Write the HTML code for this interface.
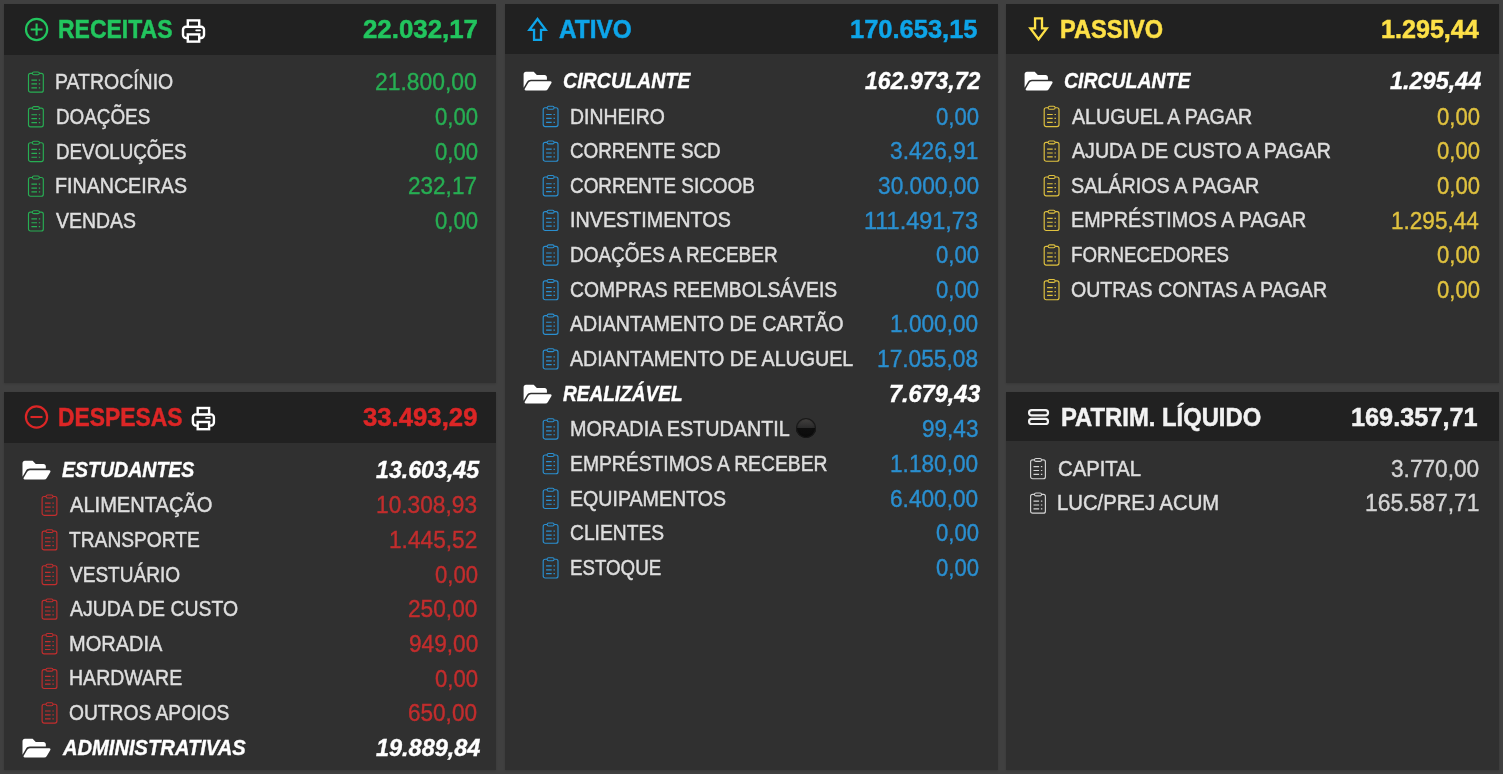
<!DOCTYPE html>
<html lang="pt-BR"><head><meta charset="utf-8"><title>Balanço</title>
<style>
html,body{margin:0;padding:0}
body{width:1503px;height:774px;overflow:hidden;background:#404040;position:relative;font-family:"Liberation Sans",sans-serif;color:#dedede}
.panel{position:absolute;background:#303030;overflow:hidden;box-shadow:0 1px 2px rgba(0,0,0,.14)}
header{position:absolute;left:0;top:0;right:0;background:#212121}
.row{position:absolute;left:0;right:0;height:34.7px}
span{position:absolute;white-space:nowrap;transform-origin:0 0;line-height:normal}
.lab{font-size:22.1px;-webkit-text-stroke:0.5px;}
.val{font-size:24.4px;-webkit-text-stroke:0.4px;}
.glab{font-size:22.1px;-webkit-text-stroke:0.4px;font-weight:bold;font-style:italic;color:#fff}
.gval{font-size:24.4px;-webkit-text-stroke:0.4px;font-weight:bold;font-style:italic;color:#fff}
.hlab{font-size:25.9px;-webkit-text-stroke:0.5px;font-weight:bold}
.hval{font-size:25.9px;-webkit-text-stroke:0.5px;font-weight:bold}
svg{position:absolute;overflow:visible}
.dot{position:absolute;width:20.3px;height:20.3px;border-radius:50%;background:linear-gradient(#484644 0,#3a3938 20%,#2b2b2b 48%,#0e0e0e 52%,#0c0c0c 100%);box-shadow:inset 0 0 0 1px #191919,inset 0 0 1.5px 1px rgba(10,10,10,.55)}
.green header{color:#22c55e}.green .val,.green .ci{color:#27ae53}
.red header{color:#dc2626}.red .val,.red .ci{color:#c22d2d}
.blue header{color:#0ea5e9}.blue .val,.blue .ci{color:#2a8fd0}
.yellow header{color:#fde047}.yellow .val,.yellow .ci{color:#e0c23f}
.white header{color:#f2f2f2}.white .val,.white .ci{color:#d4d4d4}
</style></head>
<body>
<section class="panel green" style="left:4.1px;top:4.1px;width:492px;height:378.8px">
<header style="height:51px"><svg style="left:19.9px;top:12.9px" width="26" height="26" viewBox="0 0 26 26" fill="none" stroke="currentColor" stroke-width="2.2"><g transform="translate(0.9 0.8)"><circle cx="11.7" cy="11.7" r="10.6"/><path d="M5.8 11.7h11.8M11.7 5.8v11.8" stroke-width="2.1"/></g></svg><span class="hlab" style="left:54.24px;top:10.92px;transform:scaleX(0.8877)">RECEITAS</span><svg style="left:176.9px;top:14.9px" width="26" height="25" viewBox="0 0 26 25" fill="none" stroke="#fff" stroke-width="2.400"><g transform="translate(0.8 0.2)"><rect x="1.2" y="7.6" width="21" height="11.2" rx="3"/><rect x="6" y="1.2" width="11.4" height="6.4" fill="#212121"/><rect x="6" y="15.200" width="11.400" height="7.200" fill="#212121"/><path d="M14.4 11.100h3.800" stroke-width="1.800" stroke-linecap="round"/></g></svg><span class="hval" style="left:358.98px;top:10.92px;transform:scaleX(0.9977)">22.032,17</span></header>
<div class="row r" style="top:59.9px"><svg class="ci" style="left:22.9px;top:7px" width="18" height="23" viewBox="0 0 18 23" stroke="currentColor"><g transform="translate(0.9 0.35)"><rect x="0.6" y="2" width="14.8" height="18.8" rx="2" fill="none" stroke-width="1.15"/><rect x="4.5" y="0.55" width="7" height="2.9" rx="1.45" fill="#303030" stroke-width="1.05"/><path d="M3.5 8.7h5.6M3.5 12.6h5.6M3.5 16.5h5.6M10.9 8.7h1.4M10.9 12.6h1.4M10.9 16.5h1.4" fill="none" stroke-width="1.2"/></g></svg><span class="lab" style="left:50.64px;top:5.02px;transform:scaleX(0.8808)">PATROCÍNIO</span><span class="val" style="left:371.22px;top:4.02px;transform:scaleX(0.9371)">21.800,00</span></div>
<div class="row r" style="top:94.9px"><svg class="ci" style="left:22.9px;top:7px" width="18" height="23" viewBox="0 0 18 23" stroke="currentColor"><g transform="translate(0.9 0.05)"><rect x="0.6" y="2" width="14.8" height="18.8" rx="2" fill="none" stroke-width="1.15"/><rect x="4.5" y="0.55" width="7" height="2.9" rx="1.45" fill="#303030" stroke-width="1.05"/><path d="M3.5 8.7h5.6M3.5 12.6h5.6M3.5 16.5h5.6M10.9 8.7h1.4M10.9 12.6h1.4M10.9 16.5h1.4" fill="none" stroke-width="1.2"/></g></svg><span class="lab" style="left:51.46px;top:5.02px;transform:scaleX(0.8525)">DOAÇÕES</span><span class="val" style="left:430.92px;top:4.02px;transform:scaleX(0.9059)">0,00</span></div>
<div class="row r" style="top:128.9px"><svg class="ci" style="left:22.9px;top:7px" width="18" height="24" viewBox="0 0 18 24" stroke="currentColor"><g transform="translate(0.9 0.75)"><rect x="0.6" y="2" width="14.8" height="18.8" rx="2" fill="none" stroke-width="1.15"/><rect x="4.5" y="0.55" width="7" height="2.9" rx="1.45" fill="#303030" stroke-width="1.05"/><path d="M3.5 8.7h5.6M3.5 12.6h5.6M3.5 16.5h5.6M10.9 8.7h1.4M10.9 12.6h1.4M10.9 16.5h1.4" fill="none" stroke-width="1.2"/></g></svg><span class="lab" style="left:51.47px;top:6.02px;transform:scaleX(0.8504)">DEVOLUÇÕES</span><span class="val" style="left:430.92px;top:5.02px;transform:scaleX(0.9059)">0,00</span></div>
<div class="row r" style="top:163.9px"><svg class="ci" style="left:22.9px;top:7px" width="18" height="23" viewBox="0 0 18 23" stroke="currentColor"><g transform="translate(0.9 0.45)"><rect x="0.6" y="2" width="14.8" height="18.8" rx="2" fill="none" stroke-width="1.15"/><rect x="4.5" y="0.55" width="7" height="2.9" rx="1.45" fill="#303030" stroke-width="1.05"/><path d="M3.5 8.7h5.6M3.5 12.6h5.6M3.5 16.5h5.6M10.9 8.7h1.4M10.9 12.6h1.4M10.9 16.5h1.4" fill="none" stroke-width="1.2"/></g></svg><span class="lab" style="left:50.64px;top:5.02px;transform:scaleX(0.8891)">FINANCEIRAS</span><span class="val" style="left:404.29px;top:4.02px;transform:scaleX(0.9243)">232,17</span></div>
<div class="row r" style="top:198.9px"><svg class="ci" style="left:22.9px;top:7px" width="18" height="23" viewBox="0 0 18 23" stroke="currentColor"><g transform="translate(0.9 0.15)"><rect x="0.6" y="2" width="14.8" height="18.8" rx="2" fill="none" stroke-width="1.15"/><rect x="4.5" y="0.55" width="7" height="2.9" rx="1.45" fill="#303030" stroke-width="1.05"/><path d="M3.5 8.7h5.6M3.5 12.6h5.6M3.5 16.5h5.6M10.9 8.7h1.4M10.9 12.6h1.4M10.9 16.5h1.4" fill="none" stroke-width="1.2"/></g></svg><span class="lab" style="left:51.7px;top:5.02px;transform:scaleX(0.8809)">VENDAS</span><span class="val" style="left:430.92px;top:4.02px;transform:scaleX(0.9059)">0,00</span></div>
</section>
<section class="panel red" style="left:4.1px;top:391.9px;width:492px;height:378.5px">
<header style="height:50.8px"><svg style="left:19.9px;top:13.1px" width="26" height="25" viewBox="0 0 26 25" fill="none" stroke="currentColor" stroke-width="2.200"><g transform="translate(0.8 0.3)"><circle cx="11.7" cy="11.7" r="10.6"/><path d="M5.7 11.7h12" stroke-width="2.1"/></g></svg><span class="hlab" style="left:54.24px;top:11.12px;transform:scaleX(0.8828)">DESPESAS</span><svg style="left:186.9px;top:14.1px" width="26" height="26" viewBox="0 0 26 26" fill="none" stroke="#fff" stroke-width="2.400"><g transform="translate(0.7 0.8)"><rect x="1.2" y="7.6" width="21" height="11.2" rx="3"/><rect x="6" y="1.2" width="11.4" height="6.4" fill="#212121"/><rect x="6" y="15.200" width="11.400" height="7.200" fill="#212121"/><path d="M14.4 11.100h3.800" stroke-width="1.800" stroke-linecap="round"/></g></svg><span class="hval" style="left:358.55px;top:11.12px;transform:scaleX(0.9935)">33.493,29</span></header>
<div class="row g" style="top:60.1px"><svg style="left:17.9px;top:8px" width="30" height="21" viewBox="0 0 30 21" ><g transform="translate(0.5 0.8)"><path transform="scale(0.04861) translate(0 -64)" fill="#fff" d="M572.694 292.093 500.27 416.248A63.997 63.997 0 0 1 444.989 448H45.025c-18.523 0-30.064-20.093-20.731-36.093l72.424-124.155A64 64 0 0 1 152 256h399.964c18.523 0 30.064 20.093 20.730 36.093zM152 224h328v-48c0-26.510-21.490-48-48-48H272l-64-64H48C21.490 64 0 85.490 0 112v278.046l69.077-118.418C86.214 242.250 117.989 224 152 224z"/></g></svg><span class="glab" style="left:57.88px;top:5.02px;transform:scaleX(0.8838)">ESTUDANTES</span><span class="gval" style="left:372.09px;top:4.02px;transform:scaleX(0.9503)">13.603,45</span></div>
<div class="row c" style="top:95.1px"><svg class="ci" style="left:36.9px;top:7px" width="18" height="23" viewBox="0 0 18 23" stroke="currentColor"><g transform="translate(0.5 0.5)"><rect x="0.6" y="2" width="14.8" height="18.8" rx="2" fill="none" stroke-width="1.15"/><rect x="4.5" y="0.55" width="7" height="2.9" rx="1.45" fill="#303030" stroke-width="1.05"/><path d="M3.5 8.7h5.6M3.5 12.6h5.6M3.5 16.5h5.6M10.9 8.7h1.4M10.9 12.6h1.4M10.9 16.5h1.4" fill="none" stroke-width="1.2"/></g></svg><span class="lab" style="left:65.57px;top:5.02px;transform:scaleX(0.9089)">ALIMENTAÇÃO</span><span class="val" style="left:372.16px;top:4.02px;transform:scaleX(0.9315)">10.308,93</span></div>
<div class="row c" style="top:130.1px"><svg class="ci" style="left:36.9px;top:7px" width="18" height="23" viewBox="0 0 18 23" stroke="currentColor"><g transform="translate(0.5 0.13)"><rect x="0.6" y="2" width="14.8" height="18.8" rx="2" fill="none" stroke-width="1.15"/><rect x="4.5" y="0.55" width="7" height="2.9" rx="1.45" fill="#303030" stroke-width="1.05"/><path d="M3.5 8.7h5.6M3.5 12.6h5.6M3.5 16.5h5.6M10.9 8.7h1.4M10.9 12.6h1.4M10.9 16.5h1.4" fill="none" stroke-width="1.2"/></g></svg><span class="lab" style="left:65.32px;top:5.02px;transform:scaleX(0.8686)">TRANSPORTE</span><span class="val" style="left:384.96px;top:4.02px;transform:scaleX(0.9299)">1.445,52</span></div>
<div class="row c" style="top:164.1px"><svg class="ci" style="left:36.9px;top:7px" width="18" height="24" viewBox="0 0 18 24" stroke="currentColor"><g transform="translate(0.5 0.76)"><rect x="0.6" y="2" width="14.8" height="18.8" rx="2" fill="none" stroke-width="1.15"/><rect x="4.5" y="0.55" width="7" height="2.9" rx="1.45" fill="#303030" stroke-width="1.05"/><path d="M3.5 8.7h5.6M3.5 12.6h5.6M3.5 16.5h5.6M10.9 8.7h1.4M10.9 12.6h1.4M10.9 16.5h1.4" fill="none" stroke-width="1.2"/></g></svg><span class="lab" style="left:65.49px;top:6.02px;transform:scaleX(0.8623)">VESTUÁRIO</span><span class="val" style="left:430.92px;top:5.02px;transform:scaleX(0.9069)">0,00</span></div>
<div class="row c" style="top:199.1px"><svg class="ci" style="left:36.9px;top:7px" width="18" height="23" viewBox="0 0 18 23" stroke="currentColor"><g transform="translate(0.5 0.39)"><rect x="0.6" y="2" width="14.8" height="18.8" rx="2" fill="none" stroke-width="1.15"/><rect x="4.5" y="0.55" width="7" height="2.9" rx="1.45" fill="#303030" stroke-width="1.05"/><path d="M3.5 8.7h5.6M3.5 12.6h5.6M3.5 16.5h5.6M10.9 8.7h1.4M10.9 12.6h1.4M10.9 16.5h1.4" fill="none" stroke-width="1.2"/></g></svg><span class="lab" style="left:65.54px;top:5.02px;transform:scaleX(0.8793)">AJUDA DE CUSTO</span><span class="val" style="left:404.31px;top:4.02px;transform:scaleX(0.9303)">250,00</span></div>
<div class="row c" style="top:234.1px"><svg class="ci" style="left:36.9px;top:7px" width="18" height="23" viewBox="0 0 18 23" stroke="currentColor"><g transform="translate(0.5 0.02)"><rect x="0.6" y="2" width="14.8" height="18.8" rx="2" fill="none" stroke-width="1.15"/><rect x="4.5" y="0.55" width="7" height="2.9" rx="1.45" fill="#303030" stroke-width="1.05"/><path d="M3.5 8.7h5.6M3.5 12.6h5.6M3.5 16.5h5.6M10.9 8.7h1.4M10.9 12.6h1.4M10.9 16.5h1.4" fill="none" stroke-width="1.2"/></g></svg><span class="lab" style="left:64.43px;top:5.02px;transform:scaleX(0.9050)">MORADIA</span><span class="val" style="left:404.48px;top:4.02px;transform:scaleX(0.9287)">949,00</span></div>
<div class="row c" style="top:268.1px"><svg class="ci" style="left:36.9px;top:7px" width="18" height="24" viewBox="0 0 18 24" stroke="currentColor"><g transform="translate(0.5 0.65)"><rect x="0.6" y="2" width="14.8" height="18.8" rx="2" fill="none" stroke-width="1.15"/><rect x="4.5" y="0.55" width="7" height="2.9" rx="1.45" fill="#303030" stroke-width="1.05"/><path d="M3.5 8.7h5.6M3.5 12.6h5.6M3.5 16.5h5.6M10.9 8.7h1.4M10.9 12.6h1.4M10.9 16.5h1.4" fill="none" stroke-width="1.2"/></g></svg><span class="lab" style="left:64.44px;top:5.02px;transform:scaleX(0.8838)">HARDWARE</span><span class="val" style="left:430.92px;top:5.02px;transform:scaleX(0.9069)">0,00</span></div>
<div class="row c" style="top:303.1px"><svg class="ci" style="left:36.9px;top:7px" width="18" height="23" viewBox="0 0 18 23" stroke="currentColor"><g transform="translate(0.5 0.28)"><rect x="0.6" y="2" width="14.8" height="18.8" rx="2" fill="none" stroke-width="1.15"/><rect x="4.5" y="0.55" width="7" height="2.9" rx="1.45" fill="#303030" stroke-width="1.05"/><path d="M3.5 8.7h5.6M3.5 12.6h5.6M3.5 16.5h5.6M10.9 8.7h1.4M10.9 12.6h1.4M10.9 16.5h1.4" fill="none" stroke-width="1.2"/></g></svg><span class="lab" style="left:64.55px;top:5.02px;transform:scaleX(0.8702)">OUTROS APOIOS</span><span class="val" style="left:404.23px;top:4.02px;transform:scaleX(0.9245)">650,00</span></div>
<div class="row g" style="top:338.1px"><svg style="left:17.9px;top:8px" width="30" height="21" viewBox="0 0 30 21" ><g transform="translate(0.5 0.8)"><path transform="scale(0.04861) translate(0 -64)" fill="#fff" d="M572.694 292.093 500.27 416.248A63.997 63.997 0 0 1 444.989 448H45.025c-18.523 0-30.064-20.093-20.731-36.093l72.424-124.155A64 64 0 0 1 152 256h399.964c18.523 0 30.064 20.093 20.730 36.093zM152 224h328v-48c0-26.510-21.490-48-48-48H272l-64-64H48C21.490 64 0 85.490 0 112v278.046l69.077-118.418C86.214 242.250 117.989 224 152 224z"/></g></svg><span class="glab" style="left:58.79px;top:5.02px;transform:scaleX(0.9116)">ADMINISTRATIVAS</span><span class="gval" style="left:371.91px;top:4.02px;transform:scaleX(0.9619)">19.889,84</span></div>
</section>
<section class="panel blue" style="left:505.2px;top:4.1px;width:492.5px;height:766.3px">
<header style="height:49.6px"><svg style="left:20.8px;top:11.9px" width="24" height="27" viewBox="0 0 24 27" fill="none" stroke="currentColor" stroke-width="2.3"><g transform="translate(0 0)"><path d="M11.5 3 19.7 13.9H15V23.950H8.050V13.900H3.400z"/></g></svg><span class="hlab" style="left:54.03px;top:10.92px;transform:scaleX(0.9411)">ATIVO</span><span class="hval" style="left:344.86px;top:10.92px;transform:scaleX(0.9842)">170.653,15</span></header>
<div class="row g" style="top:58.9px"><svg style="left:17.8px;top:8px" width="30" height="21" viewBox="0 0 30 21" ><g transform="translate(0.6 0.85)"><path transform="scale(0.04861) translate(0 -64)" fill="#fff" d="M572.694 292.093 500.27 416.248A63.997 63.997 0 0 1 444.989 448H45.025c-18.523 0-30.064-20.093-20.731-36.093l72.424-124.155A64 64 0 0 1 152 256h399.964c18.523 0 30.064 20.093 20.730 36.093zM152 224h328v-48c0-26.510-21.490-48-48-48H272l-64-64H48C21.490 64 0 85.490 0 112v278.046l69.077-118.418C86.214 242.250 117.989 224 152 224z"/></g></svg><span class="glab" style="left:57.77px;top:5.02px;transform:scaleX(0.8866)">CIRCULANTE</span><span class="gval" style="left:360.19px;top:4.02px;transform:scaleX(0.9455)">162.973,72</span></div>
<div class="row c" style="top:93.9px"><svg class="ci" style="left:36.8px;top:7px" width="18" height="24" viewBox="0 0 18 24" stroke="currentColor"><g transform="translate(0.6 0.78)"><rect x="0.6" y="2" width="14.8" height="18.8" rx="2" fill="none" stroke-width="1.15"/><rect x="4.5" y="0.55" width="7" height="2.9" rx="1.45" fill="#303030" stroke-width="1.05"/><path d="M3.5 8.7h5.6M3.5 12.6h5.6M3.5 16.5h5.6M10.9 8.7h1.4M10.9 12.6h1.4M10.9 16.5h1.4" fill="none" stroke-width="1.2"/></g></svg><span class="lab" style="left:64.75px;top:6.02px;transform:scaleX(0.8775)">DINHEIRO</span><span class="val" style="left:430.43px;top:5.02px;transform:scaleX(0.9055)">0,00</span></div>
<div class="row c" style="top:128.9px"><svg class="ci" style="left:36.8px;top:7px" width="18" height="23" viewBox="0 0 18 23" stroke="currentColor"><g transform="translate(0.6 0.41)"><rect x="0.6" y="2" width="14.8" height="18.8" rx="2" fill="none" stroke-width="1.15"/><rect x="4.5" y="0.55" width="7" height="2.9" rx="1.45" fill="#303030" stroke-width="1.05"/><path d="M3.5 8.7h5.6M3.5 12.6h5.6M3.5 16.5h5.6M10.9 8.7h1.4M10.9 12.6h1.4M10.9 16.5h1.4" fill="none" stroke-width="1.2"/></g></svg><span class="lab" style="left:64.57px;top:5.02px;transform:scaleX(0.8522)">CORRENTE SCD</span><span class="val" style="left:385.2px;top:4.02px;transform:scaleX(0.9310)">3.426,91</span></div>
<div class="row c" style="top:163.9px"><svg class="ci" style="left:36.8px;top:7px" width="18" height="23" viewBox="0 0 18 23" stroke="currentColor"><g transform="translate(0.6 0.04)"><rect x="0.6" y="2" width="14.8" height="18.8" rx="2" fill="none" stroke-width="1.15"/><rect x="4.5" y="0.55" width="7" height="2.9" rx="1.45" fill="#303030" stroke-width="1.05"/><path d="M3.5 8.7h5.6M3.5 12.6h5.6M3.5 16.5h5.6M10.9 8.7h1.4M10.9 12.6h1.4M10.9 16.5h1.4" fill="none" stroke-width="1.2"/></g></svg><span class="lab" style="left:64.54px;top:5.02px;transform:scaleX(0.8552)">CORRENTE SICOOB</span><span class="val" style="left:372.39px;top:4.02px;transform:scaleX(0.9310)">30.000,00</span></div>
<div class="row c" style="top:197.9px"><svg class="ci" style="left:36.8px;top:7px" width="18" height="24" viewBox="0 0 18 24" stroke="currentColor"><g transform="translate(0.6 0.67)"><rect x="0.6" y="2" width="14.8" height="18.8" rx="2" fill="none" stroke-width="1.15"/><rect x="4.5" y="0.55" width="7" height="2.9" rx="1.45" fill="#303030" stroke-width="1.05"/><path d="M3.5 8.7h5.6M3.5 12.6h5.6M3.5 16.5h5.6M10.9 8.7h1.4M10.9 12.6h1.4M10.9 16.5h1.4" fill="none" stroke-width="1.2"/></g></svg><span class="lab" style="left:65.23px;top:5.02px;transform:scaleX(0.8931)">INVESTIMENTOS</span><span class="val" style="left:358.83px;top:5.02px;transform:scaleX(0.9618)">111.491,73</span></div>
<div class="row c" style="top:232.9px"><svg class="ci" style="left:36.8px;top:7px" width="18" height="23" viewBox="0 0 18 23" stroke="currentColor"><g transform="translate(0.6 0.3)"><rect x="0.6" y="2" width="14.8" height="18.8" rx="2" fill="none" stroke-width="1.15"/><rect x="4.5" y="0.55" width="7" height="2.9" rx="1.45" fill="#303030" stroke-width="1.05"/><path d="M3.5 8.7h5.6M3.5 12.6h5.6M3.5 16.5h5.6M10.9 8.7h1.4M10.9 12.6h1.4M10.9 16.5h1.4" fill="none" stroke-width="1.2"/></g></svg><span class="lab" style="left:64.76px;top:5.02px;transform:scaleX(0.8582)">DOAÇÕES A RECEBER</span><span class="val" style="left:430.43px;top:4.02px;transform:scaleX(0.9055)">0,00</span></div>
<div class="row c" style="top:266.9px"><svg class="ci" style="left:36.8px;top:7px" width="18" height="24" viewBox="0 0 18 24" stroke="currentColor"><g transform="translate(0.6 0.93)"><rect x="0.6" y="2" width="14.8" height="18.8" rx="2" fill="none" stroke-width="1.15"/><rect x="4.5" y="0.55" width="7" height="2.9" rx="1.45" fill="#303030" stroke-width="1.05"/><path d="M3.5 8.7h5.6M3.5 12.6h5.6M3.5 16.5h5.6M10.9 8.7h1.4M10.9 12.6h1.4M10.9 16.5h1.4" fill="none" stroke-width="1.2"/></g></svg><span class="lab" style="left:64.47px;top:6.02px;transform:scaleX(0.8740)">COMPRAS REEMBOLSÁVEIS</span><span class="val" style="left:430.43px;top:5.02px;transform:scaleX(0.9055)">0,00</span></div>
<div class="row c" style="top:301.9px"><svg class="ci" style="left:36.8px;top:7px" width="18" height="23" viewBox="0 0 18 23" stroke="currentColor"><g transform="translate(0.6 0.56)"><rect x="0.6" y="2" width="14.8" height="18.8" rx="2" fill="none" stroke-width="1.15"/><rect x="4.5" y="0.55" width="7" height="2.9" rx="1.45" fill="#303030" stroke-width="1.05"/><path d="M3.5 8.7h5.6M3.5 12.6h5.6M3.5 16.5h5.6M10.9 8.7h1.4M10.9 12.6h1.4M10.9 16.5h1.4" fill="none" stroke-width="1.2"/></g></svg><span class="lab" style="left:64.85px;top:5.02px;transform:scaleX(0.8876)">ADIANTAMENTO DE CARTÃO</span><span class="val" style="left:384.46px;top:4.02px;transform:scaleX(0.9290)">1.000,00</span></div>
<div class="row c" style="top:336.9px"><svg class="ci" style="left:36.8px;top:7px" width="18" height="23" viewBox="0 0 18 23" stroke="currentColor"><g transform="translate(0.6 0.19)"><rect x="0.6" y="2" width="14.8" height="18.8" rx="2" fill="none" stroke-width="1.15"/><rect x="4.5" y="0.55" width="7" height="2.9" rx="1.45" fill="#303030" stroke-width="1.05"/><path d="M3.5 8.7h5.6M3.5 12.6h5.6M3.5 16.5h5.6M10.9 8.7h1.4M10.9 12.6h1.4M10.9 16.5h1.4" fill="none" stroke-width="1.2"/></g></svg><span class="lab" style="left:64.84px;top:5.02px;transform:scaleX(0.8898)">ADIANTAMENTO DE ALUGUEL</span><span class="val" style="left:371.66px;top:4.02px;transform:scaleX(0.9315)">17.055,08</span></div>
<div class="row g" style="top:371.9px"><svg style="left:17.8px;top:8px" width="30" height="21" viewBox="0 0 30 21" ><g transform="translate(0.6 0.85)"><path transform="scale(0.04861) translate(0 -64)" fill="#fff" d="M572.694 292.093 500.27 416.248A63.997 63.997 0 0 1 444.989 448H45.025c-18.523 0-30.064-20.093-20.731-36.093l72.424-124.155A64 64 0 0 1 152 256h399.964c18.523 0 30.064 20.093 20.730 36.093zM152 224h328v-48c0-26.510-21.490-48-48-48H272l-64-64H48C21.490 64 0 85.490 0 112v278.046l69.077-118.418C86.214 242.250 117.989 224 152 224z"/></g></svg><span class="glab" style="left:57.77px;top:5.02px;transform:scaleX(0.8622)">REALIZÁVEL</span><span class="gval" style="left:383.93px;top:4.02px;transform:scaleX(0.9620)">7.679,43</span></div>
<div class="row c" style="top:406.9px"><svg class="ci" style="left:36.8px;top:7px" width="18" height="23" viewBox="0 0 18 23" stroke="currentColor"><g transform="translate(0.6 0.25)"><rect x="0.6" y="2" width="14.8" height="18.8" rx="2" fill="none" stroke-width="1.15"/><rect x="4.5" y="0.55" width="7" height="2.9" rx="1.45" fill="#303030" stroke-width="1.05"/><path d="M3.5 8.7h5.6M3.5 12.6h5.6M3.5 16.5h5.6M10.9 8.7h1.4M10.9 12.6h1.4M10.9 16.5h1.4" fill="none" stroke-width="1.2"/></g></svg><span class="lab" style="left:65.13px;top:5.02px;transform:scaleX(0.8954)">MORADIA ESTUDANTIL</span><i class="dot" style="left:290.6px;top:6.8px"></i><span class="val" style="left:416.8px;top:4.02px;transform:scaleX(0.9244)">99,43</span></div>
<div class="row c" style="top:440.9px"><svg class="ci" style="left:36.8px;top:7px" width="18" height="24" viewBox="0 0 18 24" stroke="currentColor"><g transform="translate(0.6 0.99)"><rect x="0.6" y="2" width="14.8" height="18.8" rx="2" fill="none" stroke-width="1.15"/><rect x="4.5" y="0.55" width="7" height="2.9" rx="1.45" fill="#303030" stroke-width="1.05"/><path d="M3.5 8.7h5.6M3.5 12.6h5.6M3.5 16.5h5.6M10.9 8.7h1.4M10.9 12.6h1.4M10.9 16.5h1.4" fill="none" stroke-width="1.2"/></g></svg><span class="lab" style="left:65.15px;top:6.02px;transform:scaleX(0.8739)">EMPRÉSTIMOS A RECEBER</span><span class="val" style="left:384.46px;top:5.02px;transform:scaleX(0.9290)">1.180,00</span></div>
<div class="row c" style="top:475.9px"><svg class="ci" style="left:36.8px;top:7px" width="18" height="24" viewBox="0 0 18 24" stroke="currentColor"><g transform="translate(0.6 0.73)"><rect x="0.6" y="2" width="14.8" height="18.8" rx="2" fill="none" stroke-width="1.15"/><rect x="4.5" y="0.55" width="7" height="2.9" rx="1.45" fill="#303030" stroke-width="1.05"/><path d="M3.5 8.7h5.6M3.5 12.6h5.6M3.5 16.5h5.6M10.9 8.7h1.4M10.9 12.6h1.4M10.9 16.5h1.4" fill="none" stroke-width="1.2"/></g></svg><span class="lab" style="left:65.14px;top:6.02px;transform:scaleX(0.8872)">EQUIPAMENTOS</span><span class="val" style="left:384.48px;top:5.02px;transform:scaleX(0.9288)">6.400,00</span></div>
<div class="row c" style="top:510.9px"><svg class="ci" style="left:36.8px;top:7px" width="18" height="23" viewBox="0 0 18 23" stroke="currentColor"><g transform="translate(0.6 0.47)"><rect x="0.6" y="2" width="14.8" height="18.8" rx="2" fill="none" stroke-width="1.15"/><rect x="4.5" y="0.55" width="7" height="2.9" rx="1.45" fill="#303030" stroke-width="1.05"/><path d="M3.5 8.7h5.6M3.5 12.6h5.6M3.5 16.5h5.6M10.9 8.7h1.4M10.9 12.6h1.4M10.9 16.5h1.4" fill="none" stroke-width="1.2"/></g></svg><span class="lab" style="left:64.88px;top:5.02px;transform:scaleX(0.8713)">CLIENTES</span><span class="val" style="left:430.43px;top:4.02px;transform:scaleX(0.9055)">0,00</span></div>
<div class="row c" style="top:545.9px"><svg class="ci" style="left:36.8px;top:7px" width="18" height="23" viewBox="0 0 18 23" stroke="currentColor"><g transform="translate(0.6 0.21)"><rect x="0.6" y="2" width="14.8" height="18.8" rx="2" fill="none" stroke-width="1.15"/><rect x="4.5" y="0.55" width="7" height="2.9" rx="1.45" fill="#303030" stroke-width="1.05"/><path d="M3.5 8.7h5.6M3.5 12.6h5.6M3.5 16.5h5.6M10.9 8.7h1.4M10.9 12.6h1.4M10.9 16.5h1.4" fill="none" stroke-width="1.2"/></g></svg><span class="lab" style="left:65.17px;top:5.02px;transform:scaleX(0.8470)">ESTOQUE</span><span class="val" style="left:430.43px;top:4.02px;transform:scaleX(0.9055)">0,00</span></div>
</section>
<section class="panel yellow" style="left:1006.2px;top:4.1px;width:492.5px;height:378.8px">
<header style="height:49.6px"><svg style="left:20.8px;top:11.9px" width="24" height="27" viewBox="0 0 24 27" fill="none" stroke="currentColor" stroke-width="2.300"><g transform="translate(0 0)"><path d="M11.55 23.3 19.7 12.4H15V2.350H8.050V12.400H3.400z"/></g></svg><span class="hlab" style="left:53.92px;top:10.92px;transform:scaleX(0.9099)">PASSIVO</span><span class="hval" style="left:374.48px;top:10.92px;transform:scaleX(0.9703)">1.295,44</span></header>
<div class="row g" style="top:58.9px"><svg style="left:17.8px;top:8px" width="30" height="21" viewBox="0 0 30 21" ><g transform="translate(0.6 0.85)"><path transform="scale(0.04861) translate(0 -64)" fill="#fff" d="M572.694 292.093 500.27 416.248A63.997 63.997 0 0 1 444.989 448H45.025c-18.523 0-30.064-20.093-20.731-36.093l72.424-124.155A64 64 0 0 1 152 256h399.964c18.523 0 30.064 20.093 20.730 36.093zM152 224h328v-48c0-26.510-21.490-48-48-48H272l-64-64H48C21.490 64 0 85.490 0 112v278.046l69.077-118.418C86.214 242.250 117.989 224 152 224z"/></g></svg><span class="glab" style="left:57.39px;top:5.02px;transform:scaleX(0.8807)">CIRCULANTE</span><span class="gval" style="left:383.87px;top:4.02px;transform:scaleX(0.9621)">1.295,44</span></div>
<div class="row c" style="top:93.9px"><svg class="ci" style="left:36.8px;top:7px" width="18" height="24" viewBox="0 0 18 24" stroke="currentColor"><g transform="translate(0.6 0.78)"><rect x="0.6" y="2" width="14.8" height="18.8" rx="2" fill="none" stroke-width="1.15"/><rect x="4.5" y="0.55" width="7" height="2.9" rx="1.45" fill="#303030" stroke-width="1.05"/><path d="M3.5 8.7h5.6M3.5 12.6h5.6M3.5 16.5h5.6M10.9 8.7h1.4M10.9 12.6h1.4M10.9 16.5h1.4" fill="none" stroke-width="1.2"/></g></svg><span class="lab" style="left:65.64px;top:6.02px;transform:scaleX(0.8893)">ALUGUEL A PAGAR</span><span class="val" style="left:430.5px;top:5.02px;transform:scaleX(0.9042)">0,00</span></div>
<div class="row c" style="top:128.9px"><svg class="ci" style="left:36.8px;top:7px" width="18" height="23" viewBox="0 0 18 23" stroke="currentColor"><g transform="translate(0.6 0.41)"><rect x="0.6" y="2" width="14.8" height="18.8" rx="2" fill="none" stroke-width="1.15"/><rect x="4.5" y="0.55" width="7" height="2.9" rx="1.45" fill="#303030" stroke-width="1.05"/><path d="M3.5 8.7h5.6M3.5 12.6h5.6M3.5 16.5h5.6M10.9 8.7h1.4M10.9 12.6h1.4M10.9 16.5h1.4" fill="none" stroke-width="1.2"/></g></svg><span class="lab" style="left:65.65px;top:5.02px;transform:scaleX(0.8890)">AJUDA DE CUSTO A PAGAR</span><span class="val" style="left:430.5px;top:4.02px;transform:scaleX(0.9042)">0,00</span></div>
<div class="row c" style="top:163.9px"><svg class="ci" style="left:36.8px;top:7px" width="18" height="23" viewBox="0 0 18 23" stroke="currentColor"><g transform="translate(0.6 0.04)"><rect x="0.6" y="2" width="14.8" height="18.8" rx="2" fill="none" stroke-width="1.15"/><rect x="4.5" y="0.55" width="7" height="2.9" rx="1.45" fill="#303030" stroke-width="1.05"/><path d="M3.5 8.7h5.6M3.5 12.6h5.6M3.5 16.5h5.6M10.9 8.7h1.4M10.9 12.6h1.4M10.9 16.5h1.4" fill="none" stroke-width="1.2"/></g></svg><span class="lab" style="left:65.16px;top:5.02px;transform:scaleX(0.8935)">SALÁRIOS A PAGAR</span><span class="val" style="left:430.5px;top:4.02px;transform:scaleX(0.9042)">0,00</span></div>
<div class="row c" style="top:197.9px"><svg class="ci" style="left:36.8px;top:7px" width="18" height="24" viewBox="0 0 18 24" stroke="currentColor"><g transform="translate(0.6 0.67)"><rect x="0.6" y="2" width="14.8" height="18.8" rx="2" fill="none" stroke-width="1.15"/><rect x="4.5" y="0.55" width="7" height="2.9" rx="1.45" fill="#303030" stroke-width="1.05"/><path d="M3.5 8.7h5.6M3.5 12.6h5.6M3.5 16.5h5.6M10.9 8.7h1.4M10.9 12.6h1.4M10.9 16.5h1.4" fill="none" stroke-width="1.2"/></g></svg><span class="lab" style="left:65.14px;top:5.02px;transform:scaleX(0.8930)">EMPRÉSTIMOS A PAGAR</span><span class="val" style="left:384.46px;top:5.02px;transform:scaleX(0.9250)">1.295,44</span></div>
<div class="row c" style="top:232.9px"><svg class="ci" style="left:36.8px;top:7px" width="18" height="23" viewBox="0 0 18 23" stroke="currentColor"><g transform="translate(0.6 0.3)"><rect x="0.6" y="2" width="14.8" height="18.8" rx="2" fill="none" stroke-width="1.15"/><rect x="4.5" y="0.55" width="7" height="2.9" rx="1.45" fill="#303030" stroke-width="1.05"/><path d="M3.5 8.7h5.6M3.5 12.6h5.6M3.5 16.5h5.6M10.9 8.7h1.4M10.9 12.6h1.4M10.9 16.5h1.4" fill="none" stroke-width="1.2"/></g></svg><span class="lab" style="left:65.17px;top:5.02px;transform:scaleX(0.8461)">FORNECEDORES</span><span class="val" style="left:430.5px;top:4.02px;transform:scaleX(0.9042)">0,00</span></div>
<div class="row c" style="top:266.9px"><svg class="ci" style="left:36.8px;top:7px" width="18" height="24" viewBox="0 0 18 24" stroke="currentColor"><g transform="translate(0.6 0.93)"><rect x="0.6" y="2" width="14.8" height="18.8" rx="2" fill="none" stroke-width="1.15"/><rect x="4.5" y="0.55" width="7" height="2.9" rx="1.45" fill="#303030" stroke-width="1.05"/><path d="M3.5 8.7h5.6M3.5 12.6h5.6M3.5 16.5h5.6M10.9 8.7h1.4M10.9 12.6h1.4M10.9 16.5h1.4" fill="none" stroke-width="1.2"/></g></svg><span class="lab" style="left:65.16px;top:6.02px;transform:scaleX(0.8862)">OUTRAS CONTAS A PAGAR</span><span class="val" style="left:430.5px;top:5.02px;transform:scaleX(0.9042)">0,00</span></div>
</section>
<section class="panel white" style="left:1006.2px;top:391.9px;width:492.5px;height:378.5px">
<header style="height:49.6px"><svg style="left:20.8px;top:17.1px" width="24" height="18" viewBox="0 0 24 18" fill="none" stroke="currentColor" stroke-width="2.2"><g transform="translate(0.95 0.1)"><rect x="1.1" y="1.1" width="18.95" height="5.2" rx="2.6"/><rect x="1.100" y="9.700" width="18.950" height="5.200" rx="2.600"/></g></svg><span class="hlab" style="left:54.71px;top:11.12px;transform:scaleX(0.9198)">PATRIM. LÍQUIDO</span><span class="hval" style="left:345.07px;top:11.12px;transform:scaleX(0.9765)">169.357,71</span></header>
<div class="row r" style="top:58.1px"><svg class="ci" style="left:23.8px;top:7px" width="17" height="24" viewBox="0 0 17 24" stroke="currentColor"><g transform="translate(0 0.9)"><rect x="0.6" y="2" width="14.8" height="18.8" rx="2" fill="none" stroke-width="1.15"/><rect x="4.5" y="0.55" width="7" height="2.9" rx="1.45" fill="#303030" stroke-width="1.05"/><path d="M3.5 8.7h5.6M3.5 12.6h5.6M3.5 16.5h5.6M10.9 8.7h1.4M10.9 12.6h1.4M10.9 16.5h1.4" fill="none" stroke-width="1.2"/></g></svg><span class="lab" style="left:51.32px;top:6.02px;transform:scaleX(0.9178)">CAPITAL</span><span class="val" style="left:385.25px;top:5.02px;transform:scaleX(0.9289)">3.770,00</span></div>
<div class="row r" style="top:93.1px"><svg class="ci" style="left:23.8px;top:7px" width="17" height="23" viewBox="0 0 17 23" stroke="currentColor"><g transform="translate(0 0.4)"><rect x="0.6" y="2" width="14.8" height="18.8" rx="2" fill="none" stroke-width="1.15"/><rect x="4.5" y="0.55" width="7" height="2.9" rx="1.45" fill="#303030" stroke-width="1.05"/><path d="M3.5 8.7h5.6M3.5 12.6h5.6M3.5 16.5h5.6M10.9 8.7h1.4M10.9 12.6h1.4M10.9 16.5h1.4" fill="none" stroke-width="1.2"/></g></svg><span class="lab" style="left:50.72px;top:5.02px;transform:scaleX(0.9177)">LUC/PREJ ACUM</span><span class="val" style="left:358.85px;top:4.02px;transform:scaleX(0.9384)">165.587,71</span></div>
</section>
</body></html>
